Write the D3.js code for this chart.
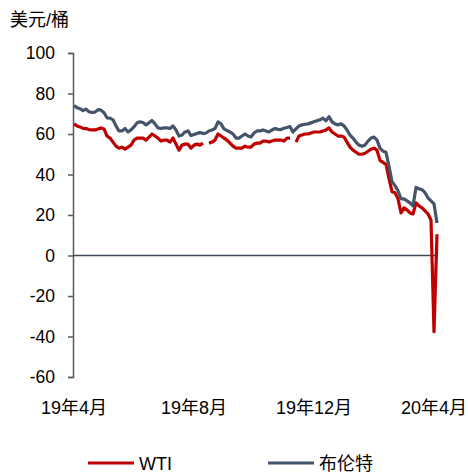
<!DOCTYPE html>
<html>
<head>
<meta charset="utf-8">
<script src="https://cdn.jsdelivr.net/npm/d3@7"></script>
<style>
  body { margin: 0; background: #fff; }
  svg text { font-family: "Liberation Sans", Arial, "Noto Sans CJK SC", sans-serif; fill: #000; }
</style>
</head>
<body>
<svg id="chart" width="468" height="474"></svg>
<script>
// daily-ish samples, Apr 2019 - Apr 2020
const brent = [74, 73, 72.5, 71.5, 72.3, 71, 70.6, 70.8, 72, 71.8, 70.5, 68, 67.8, 67, 64, 61.5,
  61.5, 62.7, 61, 62, 63.5, 65.5, 66, 65.7, 64.5, 65.5, 66.7, 65, 63, 62.7, 63, 63, 62.7, 64, 62,
  59, 59.5, 61, 61.5, 59.2, 59.8, 60.3, 60.7, 60.2, 60.5, 61.5, 62, 62.7, 66, 65, 62.5, 61.7, 61,
  60, 58, 58, 59, 60, 59, 58.5, 60.5, 61.5, 61.5, 62, 61.5, 61, 62, 62.7, 62.3, 62.2, 62.8, 63.2,
  63.7, 61, 62.5, 64, 64.5, 64.8, 65, 65.5, 66, 66.5, 67, 67.8, 66.5, 68.6, 66, 65, 64.5, 65, 64,
  62, 59.5, 58, 56, 54.5, 54, 54.5, 56.5, 58, 58.5, 57, 53, 51.5, 51, 44, 36.5, 34.5, 32, 28, 28,
  27, 26, 24.5, 33.6, 33, 32.5, 31, 28.5, 27, 25.5, 16];
const wti = [65, 64, 63.5, 62.8, 62.7, 62.2, 62, 62, 62.5, 63, 62.5, 59, 58, 56, 54, 53, 53.5,
  52.5, 53.5, 54.5, 57, 58, 58, 58, 57, 58.5, 60, 59, 58, 56.5, 57, 57, 56, 58, 55, 52, 54.5, 55,
  55, 53, 54.5, 55, 54.5, 55.5, null, 55.5, 56, 57, 60, 59, 58, 57, 55.5, 54, 53, 53, 53, 54, 53.5,
  53.5, 55, 55.5, 55.5, 56.5, 56.5, 56, 56.5, 57, 57, 57, 56.5, 58, 58, null, 56, 59, 59.5, 60, 60,
  60.5, 61, 61, 61, 61.5, 62, 63, 61, 60, 59, 59, 58.5, 56, 53.5, 52, 51, 50, 50, 50.5, 51.5, 52.5,
  53, 52, 47, 46, 45, 38, 31.5, 31, 28, 21, 23.5, 22.5, 21, 20.5, 26, 24.5, 23.5, 22, 20.5, 17.5,
  -37.6, 10.5];
const tickIdx = [0, 40, 80, 120];
const tickLabels = ["19年4月", "19年8月", "19年12月", "20年4月"];
const yTicks = [100, 80, 60, 40, 20, 0, -20, -40, -60];
const seriesNames = ["WTI", "布伦特"];
const colors = ["#C00000", "#44546A"];

const svg = d3.select("#chart");

const x = d3.scaleLinear().domain([0, brent.length - 1]).range([74, 437]);
const y = d3.scaleLinear().domain([-60, 100]).range([377, 53]);

// y axis
const yAxis = svg.append("g")
  .attr("transform", "translate(73,0)")
  .call(d3.axisLeft(y).tickValues(yTicks).tickSize(5).tickPadding(13).tickFormat(d => String(d)));
yAxis.select(".domain").attr("stroke", "#595959").attr("stroke-width", 1.5);
yAxis.selectAll(".tick line").attr("stroke", "#595959").attr("stroke-width", 1.5);
yAxis.selectAll(".tick text").attr("font-size", 17.5).attr("fill", "#000");

// zero line
svg.append("line")
  .attr("x1", 73).attr("x2", 438)
  .attr("y1", y(0)).attr("y2", y(0))
  .attr("stroke", "#404a58").attr("stroke-width", 1.5);

// x labels
svg.append("g").selectAll("text")
  .data(tickIdx)
  .enter()
  .append("text")
  .attr("x", d => x(d))
  .attr("y", 414)
  .attr("text-anchor", "middle")
  .attr("font-size", 18)
  .text((d, i) => tickLabels[i]);

// unit
svg.append("text")
  .attr("x", 10).attr("y", 26)
  .attr("font-size", 18)
  .text("美元/桶");

const line = d3.line()
  .defined(d => d != null)
  .x((d, i) => x(i))
  .y(d => y(d));

[wti, brent].forEach((s, k) => {
  svg.append("path")
    .datum(s)
    .attr("fill", "none")
    .attr("stroke", colors[k])
    .attr("stroke-width", 3.2)
    .attr("stroke-linejoin", "round")
    .attr("d", line);
});

// legend
const legend = svg.append("g");
const legendX = [88, 268];
seriesNames.forEach((name, k) => {
  legend.append("line")
    .attr("x1", legendX[k]).attr("x2", legendX[k] + 46)
    .attr("y1", 463).attr("y2", 463)
    .attr("stroke", colors[k]).attr("stroke-width", 3);
  legend.append("text")
    .attr("x", legendX[k] + 51).attr("y", 470)
    .attr("font-size", 18)
    .text(name);
});
</script>
</body>
</html>
